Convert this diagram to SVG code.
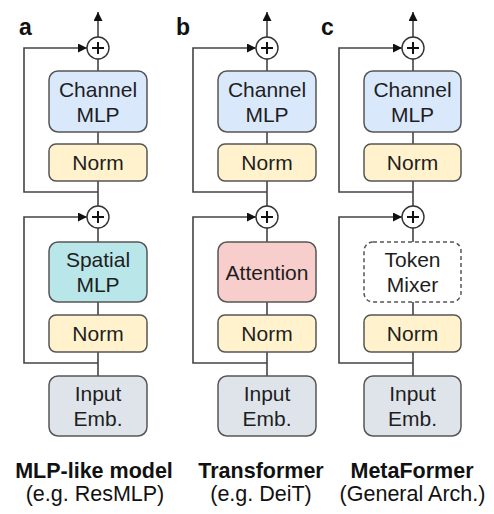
<svg xmlns="http://www.w3.org/2000/svg" width="494" height="514" viewBox="0 0 494 514">
<style>
.box{stroke:#555;stroke-width:1.5}
.ch{fill:#dae8fc}
.nm{fill:#fff2cc}
.sp{fill:#b9e6e8}
.at{fill:#f8cecc}
.in{fill:#dfe4eb}
.tm{fill:#ffffff;stroke-dasharray:4 3}
.t{font-family:"Liberation Sans",Arial,sans-serif;font-size:21px;fill:#1e1e1e;text-anchor:middle}
.lab{font-family:"Liberation Sans",Arial,sans-serif;font-size:23px;font-weight:bold;fill:#111}
.cap{font-family:"Liberation Sans",Arial,sans-serif;font-size:21.5px;font-weight:bold;fill:#111;text-anchor:middle}
.sub{font-family:"Liberation Sans",Arial,sans-serif;font-size:21.5px;fill:#111;text-anchor:middle}
.ln{fill:none;stroke:#444;stroke-width:1.6}
.pc{fill:#fff;stroke:#333;stroke-width:1.4}
.pl{stroke:#111;stroke-width:2}
</style>
<defs>
<marker id="ah" viewBox="0 0 10 10" refX="10" refY="5" markerWidth="9" markerHeight="9" markerUnits="userSpaceOnUse" orient="auto">
<path d="M0,0 L10,5 L0,10 Z" fill="#111"/>
</marker>
</defs>
<rect width="494" height="514" fill="#fff"/>

<g id="connectors">
<!-- column a -->
<path class="ln" d="M98,376 V352 M98,315 V302 M98,242 V228 M98,206 V181 M98,144 V132 M98,71 V59"/>
<path class="ln" d="M98,37 V12" marker-end="url(#ah)"/>
<path class="ln" d="M98,192 H24 V48 H87" marker-end="url(#ah)"/>
<path class="ln" d="M98,363 H24 V217 H87" marker-end="url(#ah)"/>
<!-- column b -->
<path class="ln" d="M267,376 V352 M267,315 V302 M267,242 V228 M267,206 V181 M267,144 V132 M267,71 V59"/>
<path class="ln" d="M267,37 V12" marker-end="url(#ah)"/>
<path class="ln" d="M267,192 H193 V48 H256" marker-end="url(#ah)"/>
<path class="ln" d="M267,363 H193 V217 H256" marker-end="url(#ah)"/>
<!-- column c -->
<path class="ln" d="M413,376 V352 M413,315 V302 M413,242 V228 M413,206 V181 M413,144 V132 M413,71 V59"/>
<path class="ln" d="M413,37 V12" marker-end="url(#ah)"/>
<path class="ln" d="M413,192 H339 V48 H402" marker-end="url(#ah)"/>
<path class="ln" d="M413,363 H339 V217 H402" marker-end="url(#ah)"/>
</g>

<!-- column a nodes -->
<g id="a-plus1"><circle class="pc" cx="98" cy="48" r="11"/><path class="pl" d="M92,48 H104 M98,42 V54"/></g>
<g id="a-channel"><rect class="box ch" x="49" y="71" width="98" height="61" rx="9"/><text class="t" x="98" y="97">Channel</text><text class="t" x="98" y="122">MLP</text></g>
<g id="a-norm1"><rect class="box nm" x="49" y="144" width="98" height="37" rx="7"/><text class="t" x="98" y="170">Norm</text></g>
<g id="a-plus2"><circle class="pc" cx="98" cy="217" r="11"/><path class="pl" d="M92,217 H104 M98,211 V223"/></g>
<g id="a-spatial"><rect class="box sp" x="49" y="242" width="98" height="60" rx="9"/><text class="t" x="98" y="267">Spatial</text><text class="t" x="98" y="292">MLP</text></g>
<g id="a-norm2"><rect class="box nm" x="49" y="315" width="98" height="37" rx="7"/><text class="t" x="98" y="341">Norm</text></g>
<g id="a-input"><rect class="box in" x="49" y="376" width="98" height="60" rx="9"/><text class="t" x="98" y="401">Input</text><text class="t" x="98" y="426">Emb.</text></g>

<!-- column b nodes -->
<g id="b-plus1"><circle class="pc" cx="267" cy="48" r="11"/><path class="pl" d="M261,48 H273 M267,42 V54"/></g>
<g id="b-channel"><rect class="box ch" x="218" y="71" width="98" height="61" rx="9"/><text class="t" x="267" y="97">Channel</text><text class="t" x="267" y="122">MLP</text></g>
<g id="b-norm1"><rect class="box nm" x="218" y="144" width="98" height="37" rx="7"/><text class="t" x="267" y="170">Norm</text></g>
<g id="b-plus2"><circle class="pc" cx="267" cy="217" r="11"/><path class="pl" d="M261,217 H273 M267,211 V223"/></g>
<g id="b-attention"><rect class="box at" x="218" y="242" width="98" height="60" rx="9"/><text class="t" x="267" y="280">Attention</text></g>
<g id="b-norm2"><rect class="box nm" x="218" y="315" width="98" height="37" rx="7"/><text class="t" x="267" y="341">Norm</text></g>
<g id="b-input"><rect class="box in" x="218" y="376" width="98" height="60" rx="9"/><text class="t" x="267" y="401">Input</text><text class="t" x="267" y="426">Emb.</text></g>

<!-- column c nodes -->
<g id="c-plus1"><circle class="pc" cx="413" cy="48" r="11"/><path class="pl" d="M407,48 H419 M413,42 V54"/></g>
<g id="c-channel"><rect class="box ch" x="364" y="71" width="97" height="61" rx="9"/><text class="t" x="412.5" y="97">Channel</text><text class="t" x="412.5" y="122">MLP</text></g>
<g id="c-norm1"><rect class="box nm" x="364" y="144" width="97" height="37" rx="7"/><text class="t" x="412.5" y="170">Norm</text></g>
<g id="c-plus2"><circle class="pc" cx="413" cy="217" r="11"/><path class="pl" d="M407,217 H419 M413,211 V223"/></g>
<g id="c-tokenmixer"><rect class="box tm" x="364" y="242" width="97" height="60" rx="9"/><text class="t" x="412.5" y="267">Token</text><text class="t" x="412.5" y="292">Mixer</text></g>
<g id="c-norm2"><rect class="box nm" x="364" y="315" width="97" height="37" rx="7"/><text class="t" x="412.5" y="341">Norm</text></g>
<g id="c-input"><rect class="box in" x="364" y="376" width="97" height="60" rx="9"/><text class="t" x="412.5" y="401">Input</text><text class="t" x="412.5" y="426">Emb.</text></g>

<g id="labels">
<text class="lab" x="19" y="35">a</text>
<text class="lab" x="176" y="35">b</text>
<text class="lab" x="321" y="35">c</text>
<text class="cap" x="94" y="478">MLP-like model</text>
<text class="sub" x="95" y="501">(e.g. ResMLP)</text>
<text class="cap" x="261" y="478">Transformer</text>
<text class="sub" x="261" y="501">(e.g. DeiT)</text>
<text class="cap" x="412" y="478">MetaFormer</text>
<text class="sub" x="412.5" y="501">(General Arch.)</text>
</g>
</svg>
